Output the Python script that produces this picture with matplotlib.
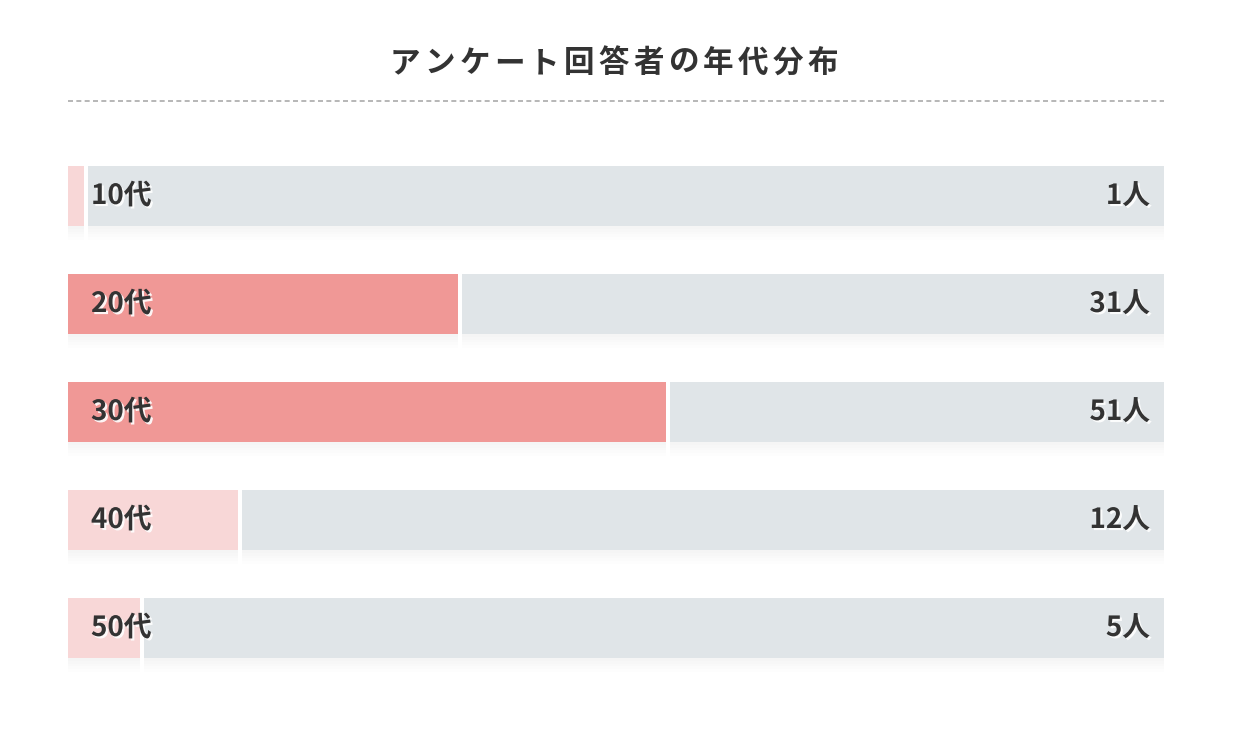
import matplotlib.pyplot as plt
import matplotlib.patheffects as pe
import numpy as np

plt.rcParams['font.family'] = ['Noto Sans CJK JP', 'DejaVu Sans']

# データ
title = 'アンケート回答者の年代分布'
ages = ['10代', '20代', '30代', '40代', '50代']
counts = [1, 31, 51, 12, 5]
# 塗りの長さ (バー全体に対する%、画像から読み取り)
fill_share = [1.5, 35.6, 54.6, 15.5, 6.6]
highlight = [False, True, True, False, False]

dark_pink = '#f09896'
light_pink = '#f8d7d7'
gray = '#e0e5e8'
text_col = '#333333'

fig = plt.figure(figsize=(12.36, 7.38), dpi=100)
W, H = 1236, 738

# バー領域
ax = fig.add_axes([68 / W, (H - 682) / H, 1096 / W, 540 / H])
ax.set_xlim(0, 100)
ax.set_ylim(4.5, -0.5)
ax.axis('off')

bar_h = 60 / 108
gap = 4 / 1096 * 100
y = np.arange(len(ages))

# ぼかした影の代わりに薄い影を重ねる
shadow = [pe.SimplePatchShadow(offset=(0, -d), shadow_rgbFace='#000000', alpha=0.008)
          for d in (2, 4, 6, 8, 10)] + [pe.Normal()]

for i in range(len(ages)):
    fc = dark_pink if highlight[i] else light_pink
    ax.barh(y[i], fill_share[i], height=bar_h, color=fc, linewidth=0,
            path_effects=shadow)
    ax.barh(y[i], 100 - fill_share[i] - gap, left=fill_share[i] + gap,
            height=bar_h, color=gray, linewidth=0, path_effects=shadow)

txt_fx = [pe.withSimplePatchShadow(offset=(1.5, -1.5), shadow_rgbFace='white', alpha=0.9)]
for i in range(len(ages)):
    ax.text(23 / 1096 * 100, y[i], ages[i], ha='left', va='center',
            fontsize=20, fontweight='bold', color=text_col, path_effects=txt_fx)
    ax.text(100 - 14 / 1096 * 100, y[i], f'{counts[i]}人', ha='right', va='center',
            fontsize=20, fontweight='bold', color=text_col, path_effects=txt_fx)

# タイトル (字間を空けて1文字ずつ配置)
pitch = 34.8
x0 = 614 - pitch * (len(title) - 1) / 2
for k, ch in enumerate(title):
    fig.text((x0 + k * pitch) / W, 1 - 63 / H, ch, ha='center', va='center',
             fontsize=22, fontweight='bold', color=text_col)

# 点線
fig.add_artist(plt.Line2D([68 / W, 1164 / W], [1 - 101 / H, 1 - 101 / H],
                          color='#aaaaaa', linewidth=1.2, linestyle=(0, (3, 2))))

fig.savefig('out.png', dpi=100)
